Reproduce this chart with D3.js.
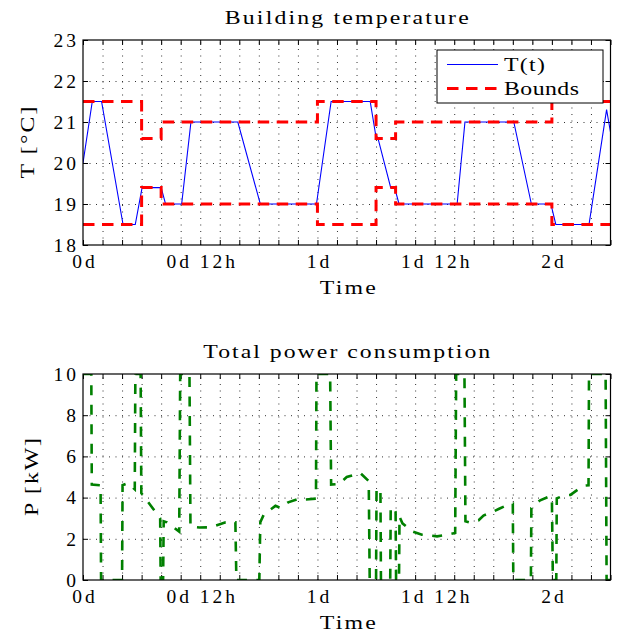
<!DOCTYPE html>
<html><head><meta charset="utf-8">
<script src="https://cdn.jsdelivr.net/npm/d3@7"></script>
<style>
body{margin:0;background:#fff;}
svg{display:block;font-family:"Liberation Serif","DejaVu Serif",serif;}
</style></head><body>
<svg id="c" width="617" height="638"></svg>
<script>
// ---------- data ----------
const tempHours  = [0, 0.95, 1.9, 4.1, 5.35, 6.05, 8.0, 8.45, 10.1, 11.05, 15.85, 18.15, 23.9, 25.4, 29.4, 29.95, 30.2, 31.5, 31.9, 32.35, 38.3, 39.1, 44.1, 45.9, 47.9, 48.4, 51.8, 53.6, 54];
const tempValues = [20, 21.5, 21.5, 18.5, 18.5, 19.4, 19.4, 19, 19, 21, 21, 19, 19, 21.5, 21.5, 20.7, 20.6, 19.4, 19.4, 19, 19, 21, 21, 19, 19, 18.5, 18.5, 21.3, 20.75];

const boundHours = [0, 6, 8, 24, 30, 32, 48, 54];
const lowerBound = [18.5, 19.4, 19, 18.5, 19.4, 19, 18.5, 18.5];
const upperBound = [21.5, 20.6, 21, 21.5, 20.6, 21, 21.5, 21.5];

const powerHours = [0, 0.85, 0.9, 1.8, 1.85, 4.0, 4.05, 4.6, 5.3, 5.36, 5.9, 5.97, 7.9, 7.95, 8.2, 8.26, 8.6, 9.85, 9.95, 10.9, 11.0, 11.9, 13.1, 14.6, 15.6, 15.7, 18.05, 18.15, 18.5, 18.7, 19.7, 20.2, 21.0, 22.1, 22.6, 23.85, 23.9, 25.3, 25.4, 26.2, 27.0, 28.4, 29.25, 29.35, 30.0, 30.05, 30.45, 30.5, 31.45, 31.5, 31.8, 32.0, 32.05, 32.35, 32.4, 32.7, 33.3, 33.7, 34.7, 36.25, 37.3, 38.1, 38.2, 39.05, 39.15, 39.5, 40.5, 41.0, 41.9, 42.6, 43.6, 44.0, 44.05, 45.85, 45.9, 46.3, 46.8, 47.7, 48.0, 48.1, 48.45, 48.5, 49.2, 49.9, 50.75, 51.3, 51.75, 51.8, 53.5, 53.6, 54];
const powerValues = [10, 10, 4.63, 4.6, 0, 0, 4.6, 4.7, 4.4, 10, 10, 4.22, 3.0, 0, 0, 2.85, 2.8, 2.35, 10, 10, 2.6, 2.55, 2.56, 2.8, 2.8, 0, 0, 2.8, 3.17, 3.25, 3.6, 3.5, 3.77, 3.95, 3.9, 3.95, 10, 10, 4.63, 4.66, 5.0, 5.19, 4.8, 0, 0, 4.47, 4.22, 0, 0, 3.5, 3.53, 3.3, 0, 0, 3.07, 2.75, 2.52, 2.36, 2.2, 2.12, 2.2, 2.28, 10, 10, 2.85, 2.8, 2.9, 3.13, 3.3, 3.46, 3.67, 3.7, 0, 0, 3.5, 3.67, 3.87, 4.05, 4.0, 0, 0, 3.96, 4.1, 4.13, 4.42, 4.58, 4.6, 10, 10, 0, 0];

const xTickHours  = d3.range(0, 55, 2);
const xLabelHours = [0, 12, 24, 36, 48];
const xLabelTexts = ["0d", "0d 12h", "1d", "1d 12h", "2d"];
const tempTicks  = [18, 19, 20, 21, 22, 23];
const powerTicks = [0, 2, 4, 6, 8, 10];

// ---------- scales ----------
const svg = d3.select("#c");
const x  = d3.scaleLinear().domain([0, 54]).range([83, 610.5]);
const yT = d3.scaleLinear().domain([18, 23]).range([245, 40]);
const yP = d3.scaleLinear().domain([0, 10]).range([580, 374]);

const labelMap = new Map(xLabelHours.map((h, i) => [h, xLabelTexts[i]]));
const FONT = "19.5px";
const SX = 1.22; // horizontal widening to mimic the wide serif glyphs

function wideText(parent, px, py, txt, len, anchor, rot) {
  const g = parent.append("g")
    .attr("transform", `translate(${px},${py})${rot ? " rotate(-90)" : ""} scale(${SX},1)`);
  g.append("text").attr("text-anchor", anchor).style("font-size", FONT).attr("fill", "#000")
    .attr("textLength", len / SX).attr("lengthAdjust", "spacing").text(txt);
  return g;
}

function styleAxis(g) {
  g.attr("font-family", null).attr("font-size", null);
  g.select(".domain").remove();
  g.selectAll(".tick line").attr("stroke", "#000").attr("stroke-width", 1);
  g.selectAll("text").attr("fill", "#000").style("font-size", FONT)
    .each(function() {
      const t = d3.select(this).text();
      if (t.length) d3.select(this).attr("textLength", t.length === 1 ? 10.5 : t.length === 2 ? 22.5 : 68.5)
        .attr("lengthAdjust", "spacing");
    });
}

function panel(y, yTicks, id, title, ylabel, ylabelX, titleLen, ylabelLen) {
  const top = y.range()[1], bottom = y.range()[0];
  const left = x.range()[0], right = x.range()[1];
  const h = bottom - top, w = right - left;

  svg.append("clipPath").attr("id", id).append("rect")
    .attr("x", left).attr("y", top).attr("width", w).attr("height", h);

  // grid
  const grid = svg.append("g");
  grid.append("g").attr("transform", `translate(0,${bottom})`)
    .call(d3.axisBottom(x).tickValues(xTickHours.filter(v => v > 0 && v < 54)).tickSize(-h).tickFormat(""));
  grid.append("g").attr("transform", `translate(${left},0)`)
    .call(d3.axisLeft(y).tickValues(yTicks.slice(1, -1)).tickSize(-w).tickFormat(""));
  grid.selectAll(".domain").remove();
  grid.selectAll("line").attr("stroke", "#333").attr("stroke-width", 1).attr("stroke-dasharray", "1,5.5");

  // axes with inward ticks
  svg.append("g").attr("transform", `translate(0,${bottom})`)
    .call(d3.axisBottom(x).tickValues(xTickHours).tickSizeInner(-5).tickSizeOuter(0).tickPadding(9.5)
      .tickFormat(v => labelMap.get(v) || ""))
    .call(styleAxis);
  svg.append("g").attr("transform", `translate(0,${top})`)
    .call(d3.axisTop(x).tickValues(xTickHours).tickSizeInner(-5).tickSizeOuter(0).tickFormat(""))
    .call(styleAxis);
  svg.append("g").attr("transform", `translate(${left},0)`)
    .call(d3.axisLeft(y).tickValues(yTicks).tickSizeInner(-5).tickSizeOuter(0).tickPadding(7).tickFormat(d3.format("d")))
    .call(styleAxis);
  svg.append("g").attr("transform", `translate(${right},0)`)
    .call(d3.axisRight(y).tickValues(yTicks).tickSizeInner(-5).tickSizeOuter(0).tickFormat(""))
    .call(styleAxis);

  // title, labels
  wideText(svg, (left + right) / 2, top - 16, title, titleLen, "middle", false);
  wideText(svg, (left + right) / 2 + 1, bottom + 49, "Time", 56, "middle", false);
  wideText(svg, ylabelX, (top + bottom) / 2, ylabel, ylabelLen, "middle", true);

  return {top, bottom, left, right, clip: `url(#${id})`};
}

// ---------- top panel ----------
const p1 = panel(yT, tempTicks, "clipT", "Building temperature", "T [°C]", 34, 244, 72);
const lineT = d3.line().x(d => x(d[0])).y(d => yT(d[1]));
const g1 = svg.append("g").attr("clip-path", p1.clip);
g1.append("path").datum(tempHours.map((h, i) => [h, tempValues[i]]))
  .attr("d", lineT).attr("fill", "none").attr("stroke", "#0000ff").attr("stroke-width", 1.1);
const lineB = d3.line().x(d => x(d[0])).y(d => yT(d[1])).curve(d3.curveStepAfter);
[upperBound, lowerBound].forEach(arr => {
  g1.append("path").datum(boundHours.map((h, i) => [h, arr[i]]))
    .attr("d", lineB).attr("fill", "none").attr("stroke", "#ff0000")
    .attr("stroke-width", 3).attr("stroke-dasharray", "11.5,7.5");
});

// frame
svg.append("rect").attr("x", p1.left).attr("y", p1.top).attr("width", p1.right - p1.left).attr("height", p1.bottom - p1.top)
  .attr("fill", "none").attr("stroke", "#000").attr("stroke-width", 1.2);

// legend
const lg = svg.append("g");
lg.append("rect").attr("x", 437).attr("y", 50).attr("width", 166).attr("height", 53)
  .attr("fill", "#fff").attr("stroke", "#000").attr("stroke-width", 1);
lg.append("line").attr("x1", 447).attr("x2", 498).attr("y1", 64.5).attr("y2", 64.5)
  .attr("stroke", "#0000ff").attr("stroke-width", 1.1);
wideText(lg, 504, 70.5, "T(t)", 41, "start", false);
lg.append("line").attr("x1", 447).attr("x2", 498).attr("y1", 88.5).attr("y2", 88.5)
  .attr("stroke", "#ff0000").attr("stroke-width", 3).attr("stroke-dasharray", "11.5,7.5");
wideText(lg, 504, 94.5, "Bounds", 75, "start", false);

// ---------- bottom panel ----------
const p2 = panel(yP, powerTicks, "clipP", "Total power consumption", "P [kW]", 38, 287, 78);
const lineP = d3.line().x(d => x(d[0])).y(d => yP(d[1]));
svg.append("g").attr("clip-path", p2.clip)
  .append("path").datum(powerHours.map((h, i) => [h, powerValues[i]]))
  .attr("d", lineP).attr("fill", "none").attr("stroke", "#008000")
  .attr("stroke-width", 2.6).attr("stroke-dasharray", "10,9.5");
svg.append("rect").attr("x", p2.left).attr("y", p2.top).attr("width", p2.right - p2.left).attr("height", p2.bottom - p2.top)
  .attr("fill", "none").attr("stroke", "#000").attr("stroke-width", 1.2);
</script>
</body></html>
